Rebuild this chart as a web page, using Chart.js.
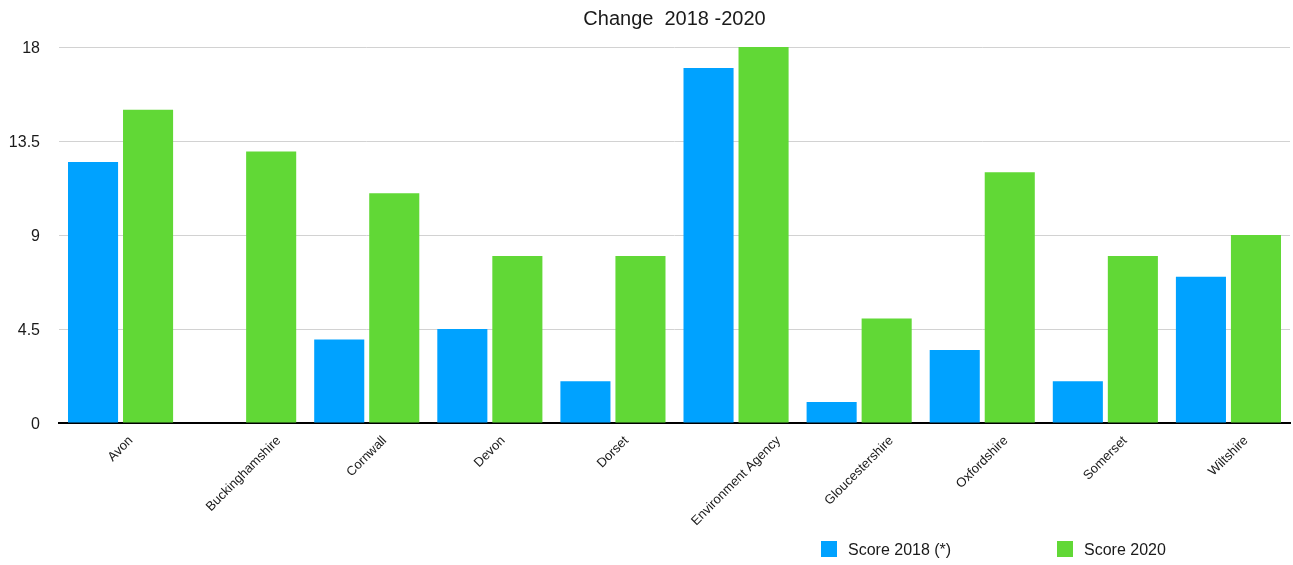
<!DOCTYPE html>
<html>
<head>
<meta charset="utf-8">
<script src="https://cdn.jsdelivr.net/npm/chart.js@4/dist/chart.umd.min.js"></script>
<style>
  html, body { margin: 0; padding: 0; background: #fff; }
  #wrap { position: relative; width: 1293px; height: 565px; }
  #legend { position: absolute; top: 541px; left: 0; width: 1293px; height: 20px;
            font-family: "Liberation Sans", Arial, Helvetica, sans-serif; font-size: 16px; color: #1a1a1a; }
  .item { position: absolute; top: 0; white-space: nowrap; }
  .box { display: inline-block; width: 16px; height: 16px; vertical-align: -2px; margin-right: 11px; }
</style>
</head>
<body>
<div id="wrap">
  <canvas id="myChart" width="1293" height="565"></canvas>
  <div id="legend"></div>
</div>
<script>
const categories = ['Avon', 'Buckinghamshire', 'Cornwall', 'Devon', 'Dorset',
  'Environment Agency', 'Gloucestershire', 'Oxfordshire', 'Somerset', 'Wiltshire'];
const score2018 = [12.5, null, 4, 4.5, 2, 17, 1, 3.5, 2, 7];
const score2020 = [15, 13, 11, 8, 8, 18, 5, 12, 8, 9];
const seriesNames = ['Score 2018 (*)', 'Score 2020'];
const seriesColors = ['#00A2FF', '#61D836'];
const yTicks = [0, 4.5, 9, 13.5, 18];

const FONT = '"Liberation Sans", Arial, Helvetica, sans-serif';

// x labels rotated 45deg around their own centre, centred under each category
const centredLabels = {
	id: 'centredLabels',
	afterDraw: function (chart) {
		const c = chart.ctx;
		const xs = chart.scales.x;
		const size = 13;
		c.save();
		c.font = size + 'px ' + FONT;
		c.fillStyle = '#1a1a1a';
		c.textAlign = 'center';
		c.textBaseline = 'middle';
		categories.forEach(function (name, i) {
			const w = c.measureText(name).width;
			const ext = (w + size) * Math.SQRT1_2;
			const x = xs.getPixelForValue(i);
			const y = xs.top + 11 + ext / 2;
			c.save();
			c.translate(x, y);
			c.rotate(-Math.PI / 4);
			c.fillText(name, 0, 0);
			c.restore();
		});
		c.restore();
	}
};

window.onload = function () {
	Chart.defaults.font.family = FONT;
	Chart.defaults.color = '#1a1a1a';

	const ctx = document.getElementById('myChart').getContext('2d');
	const myChart = new Chart(ctx, {
		type: 'bar',
		data: {
			labels: categories,
			datasets: [{
				label: seriesNames[0],
				data: score2018,
				backgroundColor: seriesColors[0]
			}, {
				label: seriesNames[1],
				data: score2020,
				backgroundColor: seriesColors[1]
			}]
		},
		options: {
			responsive: false,
			animation: false,
			layout: { padding: { left: 0, right: 3, top: 0, bottom: 0 } },
			datasets: {
				bar: { categoryPercentage: 0.894, barPercentage: 0.91 }
			},
			plugins: {
				legend: { display: false },
				tooltip: { enabled: false },
				title: {
					display: true,
					fullSize: false,
					text: 'Change  2018 -2020',
					color: '#1a1a1a',
					font: { size: 20, weight: 'normal' },
					padding: { top: 7, bottom: 16 }
				}
			},
			scales: {
				x: {
					grid: { display: false },
					border: { display: true, color: '#000', width: 2 },
					ticks: { display: false },
					afterFit: function (scale) { scale.height = 142; }
				},
				y: {
					min: 0,
					max: 18,
					afterBuildTicks: function (scale) {
						scale.ticks = yTicks.map(v => ({ value: v }));
					},
					grid: {
						color: '#d2d2d2',
						lineWidth: 1,
						drawTicks: false
					},
					border: { display: false },
					ticks: {
						font: { size: 16 },
						color: '#1a1a1a',
						padding: 19,
						labelOffset: 2
					},
					afterFit: function (scale) { scale.width = 59; }
				}
			}
		},
		plugins: [centredLabels]
	});

	// legend below the chart, built from the series arrays
	const legend = document.getElementById('legend');
	const lefts = [821, 1057];
	seriesNames.forEach(function (name, i) {
		const el = document.createElement('span');
		el.className = 'item';
		el.style.left = lefts[i] + 'px';
		el.innerHTML = '<span class="box" style="background:' + seriesColors[i] + '"></span>' + name;
		legend.appendChild(el);
	});
};
</script>
</body>
</html>
